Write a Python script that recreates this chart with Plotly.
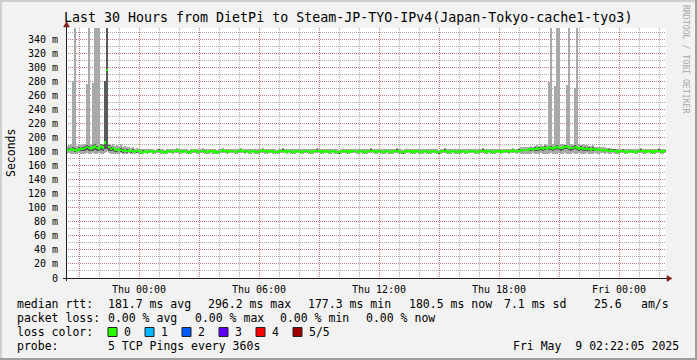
import plotly.graph_objects as go
import pandas as pd

# ---------------- data (ms), one sample every 6 minutes ----------------
median_ms = [
181.5,182.0,182.6,183.2,182.1,181.4,182.8,184.0,183.5,185.2,186.4,184.8,183.9,185.7,186.9,185.1,184.2,187.3,186.0,192.5,
296.2,186.4,183.8,184.9,182.6,181.9,183.1,182.4,180.9,181.6,180.8,181.3,180.5,181.0,179.8,180.4,181.1,178.9,179.6,180.2,
179.4,180.1,180.6,179.8,179.2,180.5,181.0,180.3,179.6,178.8,179.9,180.7,180.2,179.5,180.8,181.2,180.4,179.7,180.0,180.9,
179.3,178.7,179.8,180.6,181.1,180.2,179.6,180.4,181.0,180.1,179.4,179.9,180.8,180.3,179.7,178.9,179.5,180.6,181.2,180.5,
179.8,180.3,181.0,180.4,179.6,180.1,180.9,181.3,180.6,179.9,180.4,179.2,179.8,180.7,180.2,179.5,180.0,180.8,181.1,180.4,
179.7,180.2,180.9,180.3,179.6,179.1,179.9,180.5,181.0,180.2,179.8,180.6,180.1,179.4,180.0,180.7,180.3,179.6,180.2,180.9,
180.4,179.8,179.3,180.1,180.6,181.0,180.4,179.7,180.3,180.8,180.2,179.5,179.9,180.6,180.1,179.4,179.0,179.8,180.5,180.9,
180.3,179.7,180.2,180.8,180.4,179.6,180.1,180.7,180.0,179.3,179.8,180.5,181.0,180.4,179.7,180.2,180.6,179.9,179.4,180.0,
180.6,180.2,179.5,179.9,180.5,181.0,180.3,179.6,179.1,179.8,180.4,180.9,180.3,179.7,180.1,180.6,180.0,179.4,179.9,180.5,
180.2,179.6,180.1,180.7,180.3,179.5,179.0,179.7,180.4,180.8,180.2,179.6,180.0,180.5,180.1,179.4,179.8,180.3,180.7,180.1,
179.6,180.2,180.8,180.4,179.7,179.2,179.9,180.5,180.9,180.3,179.8,180.4,180.0,179.5,180.1,180.6,180.2,179.7,180.3,180.8,
180.4,179.9,180.5,181.1,180.7,180.2,180.8,181.4,181.9,182.4,181.8,182.6,183.3,182.7,183.8,184.4,183.6,184.9,184.2,185.3,
184.6,185.8,185.1,184.5,185.9,186.7,185.4,184.8,185.6,186.2,187.0,185.9,184.7,185.3,186.1,185.5,184.6,185.2,184.3,183.7,
184.1,183.4,182.8,183.5,182.9,182.2,182.7,181.9,181.3,181.8,181.2,180.6,181.1,180.5,180.9,180.2,179.8,180.4,180.8,180.1,
179.6,180.3,180.7,180.2,179.5,180.0,180.6,181.0,180.4,179.9,180.3,180.8,180.2,179.7,180.1,180.6,180.9,180.3,179.8,180.5,
]

min_ms = [
177,178,177,176,177,176,178,177,176,177,178,176,177,178,176,177,178,177,176,178,
180,178,177,176,177,176,177,178,176,177,177,178,177,176,177,178,177,176,177,178,
177,178,178,177,176,178,178,177,177,176,177,178,178,177,178,178,177,177,178,178,
177,176,177,178,178,177,177,178,178,177,177,177,178,177,177,176,177,178,178,178,
177,178,178,178,177,177,178,178,178,177,178,176,177,178,177,177,177,178,178,177,
177,178,178,177,177,176,177,178,178,178,177,178,177,177,177,178,178,177,177,178,
178,177,176,177,178,178,178,177,177,178,178,177,177,178,177,177,176,177,178,178,
177,177,178,178,178,177,177,178,177,176,177,178,178,178,177,177,178,177,177,177,
178,177,177,177,178,178,177,177,176,177,178,178,177,177,177,178,177,177,177,178,
177,177,177,178,178,177,176,177,178,178,177,177,177,178,177,177,177,177,178,177,
177,178,178,178,177,176,177,178,178,177,177,178,177,177,177,178,178,177,178,178,
178,177,178,178,178,177,178,177,177,176,177,176,177,178,177,176,177,178,176,177,
177,176,178,177,176,177,178,176,177,178,177,176,177,178,176,177,178,176,177,177,
178,177,176,177,178,177,177,178,178,177,178,177,177,178,177,177,177,178,178,177,
177,178,178,178,177,177,178,178,177,177,178,178,177,177,177,178,178,177,177,178,
]

max_ms = [
188,189,190,280,400,188,190,189,191,190,276,400,190,278,400,400,400,191,190,280,
400,191,189,190,188,189,188,190,187,188,186,187,185,186,184,185,184,183,184,183,
183,184,184,183,182,184,184,183,183,182,183,184,183,183,184,185,184,183,183,184,
183,182,183,184,184,183,183,184,185,184,183,183,184,184,183,182,183,184,185,184,
183,184,184,184,183,183,184,185,184,183,184,183,183,184,184,183,183,184,185,184,
183,184,184,184,183,182,183,184,185,184,183,184,184,183,183,184,184,183,184,184,
184,183,183,184,184,185,184,183,184,184,184,183,183,184,184,183,182,183,184,184,
184,183,184,184,184,183,183,184,184,183,183,184,185,184,183,184,184,183,183,183,
184,184,183,183,184,185,184,183,182,183,184,184,184,183,184,184,184,183,183,184,
184,183,184,184,184,183,182,183,184,185,184,183,183,184,184,183,183,184,184,184,
183,184,184,184,183,183,183,184,185,184,183,184,184,183,184,184,184,183,184,184,
184,183,184,185,184,184,185,186,186,187,186,187,188,187,188,189,188,189,188,190,
189,279,400,190,273,400,400,191,190,189,275,400,190,189,270,400,190,189,190,189,
189,188,188,189,187,187,187,186,186,186,185,185,185,184,184,184,183,184,184,183,
183,184,184,184,183,183,184,185,184,183,184,184,184,183,183,184,185,184,183,184,
]

ping2_ms = [
179,180,180,180,179,179,180,181,180,181,182,181,180,181,182,181,180,182,181,183,
183,181,180,180,179,179,180,179,178,179,178,179,178,179,178,178,179,177,178,178,
178,178,179,178,178,179,179,178,178,177,178,179,179,178,179,179,179,178,178,179,
178,177,178,179,179,178,178,179,179,178,178,178,179,179,178,177,178,179,179,179,
178,179,179,179,178,178,179,179,179,178,179,178,178,179,179,178,178,179,179,179,
178,179,179,179,178,178,178,179,179,179,178,179,179,178,178,179,179,178,179,179,
179,178,178,178,179,179,179,178,179,179,179,178,178,179,179,178,177,178,179,179,
179,178,179,179,179,178,178,179,178,178,178,179,179,179,178,179,179,178,178,178,
179,179,178,178,179,179,179,178,177,178,179,179,179,178,178,179,178,178,178,179,
179,178,178,179,179,178,177,178,179,179,179,178,178,179,178,178,178,179,179,178,
178,179,179,179,178,178,178,179,179,179,178,179,178,178,178,179,179,178,179,179,
179,178,179,179,179,178,179,179,180,180,180,180,181,180,181,181,181,182,181,182,
182,182,182,181,182,183,182,181,182,183,183,182,181,182,183,182,181,182,181,181,
181,181,180,181,180,180,180,180,179,180,179,179,179,179,179,178,178,179,179,178,
178,179,179,179,178,178,179,179,179,178,179,179,179,178,178,179,179,179,178,179,
]

ping4_ms = [
184,185,185,186,185,184,186,187,186,188,189,188,187,189,190,188,187,190,189,280,
400,189,186,187,185,184,185,185,183,184,183,183,182,183,182,182,183,181,182,182,
181,182,182,181,181,182,183,182,181,180,181,182,182,181,182,183,182,181,181,182,
181,180,181,182,183,182,181,182,182,181,181,181,182,182,181,180,181,182,183,182,
181,182,182,182,181,181,182,183,182,181,182,181,181,182,182,181,181,182,183,182,
181,182,182,182,181,180,181,182,183,182,181,182,182,181,181,182,182,181,182,182,
182,181,181,181,182,183,182,181,182,182,182,181,181,182,182,181,180,181,182,182,
182,181,182,182,182,181,181,182,182,181,181,182,183,182,181,182,182,181,181,181,
182,182,181,181,182,183,182,181,180,181,182,182,182,181,182,182,182,181,181,182,
182,181,182,182,182,181,180,181,182,183,182,181,181,182,182,181,181,182,182,182,
181,182,182,182,181,181,181,182,183,182,181,182,182,181,182,182,182,181,182,182,
182,181,182,183,182,182,183,183,184,184,184,184,185,185,186,186,186,187,186,188,
187,188,188,187,188,189,188,187,188,189,189,188,187,188,189,188,187,188,187,186,
186,186,185,186,185,184,185,184,183,184,183,183,183,183,183,182,182,182,183,182,
181,182,182,182,181,181,182,183,182,181,182,182,182,181,181,182,183,182,181,182,
]

y_tick_vals = list(range(0, 341, 20))
y_tick_text = ["0"] + [f"{v} m" for v in y_tick_vals[1:]]

stats_rtt = ["181.7 ms avg", "296.2 ms max", "177.3 ms min", "180.5 ms now", "7.1 ms sd", "25.6", "am/s"]
stats_loss = ["0.00 % avg", "0.00 % max", "0.00 % min", "0.00 % now"]
loss_labels = ["0", "1", "2", "3", "4", "5/5"]
loss_colors = ["#26ff00", "#00b8ff", "#0059ff", "#5e00ff", "#ff0000", "#a10000"]

# ---------------- geometry ----------------
W, H = 697, 360
PL, PR, PT, PB = 66, 666, 28, 278
t_start = pd.Timestamp("2025-05-07 20:21:00")
t_end = pd.Timestamp("2025-05-09 02:21:00")
times = pd.date_range("2025-05-07 20:24:00", periods=len(median_ms), freq="6min")
step_ms = 6 * 60 * 1000
Y_MAX = 355.7

def px(x):
    return (x - PL) / (PR - PL)

def py(y):
    return (PB - y) / (PB - PT)

MONO = "DejaVu Sans Mono"

fig = go.Figure()

# light smoke (min .. max)
fig.add_trace(go.Bar(
    x=times, y=[h - l for h, l in zip(max_ms, min_ms)], base=min_ms,
    width=step_ms, marker=dict(color="#a9a9a9", line=dict(width=0)),
    hoverinfo="skip", showlegend=False))
# dark smoke (2nd .. 4th ping)
fig.add_trace(go.Bar(
    x=times, y=[h - l for h, l in zip(ping4_ms, ping2_ms)], base=ping2_ms,
    width=step_ms, marker=dict(color="#5a5a5a", line=dict(width=0)),
    hoverinfo="skip", showlegend=False))
# median (loss 0 colour), drawn as a thin band
MED_HALF = 1.8
fig.add_trace(go.Bar(
    x=times, y=[2 * MED_HALF] * len(median_ms), base=[m - MED_HALF for m in median_ms],
    width=step_ms, marker=dict(color=loss_colors[0], line=dict(width=0)),
    hoverinfo="skip", showlegend=False))

x_major = pd.date_range("2025-05-07 21:00", "2025-05-09 00:00", freq="3h")
x_text = [t.strftime("%a %H:%M") if t.hour % 6 == 0 else "" for t in x_major]

GRID = "rgba(143,143,143,0.75)"
MGRID = "rgba(222,79,79,0.55)"
DASH = "1px,1px"

fig.update_layout(
    width=W, height=H,
    margin=dict(l=PL, r=W - PR, t=PT, b=H - PB, pad=0),
    paper_bgcolor="#f2f2f2", plot_bgcolor="#ffffff",
    barmode="overlay", bargap=0, showlegend=False,
    font=dict(family=MONO, color="#000000", size=10),
    xaxis=dict(
        type="date", range=[t_start, t_end],
        tickmode="array", tickvals=list(x_major), ticktext=x_text,
        showgrid=True, gridcolor=MGRID, griddash=DASH, gridwidth=1,
        ticks="outside", ticklen=2, tickcolor="rgba(0,0,0,0)",
        showline=False, zeroline=False,
        tickfont=dict(family=MONO, size=10, color="#000"),
        minor=dict(dtick=3600000, tick0="2025-05-07 00:00", showgrid=True,
                   gridcolor=GRID, griddash=DASH, gridwidth=1, ticks=""),
    ),
    yaxis=dict(
        range=[0, Y_MAX], tickmode="array", tickvals=y_tick_vals, ticktext=y_tick_text,
        showgrid=True, gridcolor=MGRID, griddash=DASH, gridwidth=1,
        ticks="outside", ticklen=5, tickcolor="rgba(0,0,0,0)",
        showline=False, zeroline=False,
        tickfont=dict(family=MONO, size=10, color="#000"),
        minor=dict(dtick=10, showgrid=True, gridcolor=GRID, griddash=DASH, gridwidth=1, ticks=""),
    ),
)

shapes = []
# outer 3D frame
shapes.append(dict(type="rect", xref="paper", yref="paper", x0=px(0), x1=px(W), y0=py(2), y1=py(0),
                   line=dict(width=0), fillcolor="#cfcfcf"))
shapes.append(dict(type="rect", xref="paper", yref="paper", x0=px(0), x1=px(2), y0=py(H), y1=py(0),
                   line=dict(width=0), fillcolor="#cfcfcf"))
shapes.append(dict(type="rect", xref="paper", yref="paper", x0=px(0), x1=px(W), y0=py(H), y1=py(H - 2),
                   line=dict(width=0), fillcolor="#9e9e9e"))
shapes.append(dict(type="rect", xref="paper", yref="paper", x0=px(W - 2), x1=px(W), y0=py(H), y1=py(0),
                   line=dict(width=0), fillcolor="#9e9e9e"))
# axes
shapes.append(dict(type="line", xref="paper", yref="paper", x0=px(63), x1=px(668), y0=py(278.5), y1=py(278.5),
                   line=dict(color="#1f1f1f", width=1)))
shapes.append(dict(type="line", xref="paper", yref="paper", x0=px(66.5), x1=px(66.5), y0=py(281), y1=py(25),
                   line=dict(color="#1f1f1f", width=1)))
# arrows
shapes.append(dict(type="path", xref="paper", yref="paper",
                   path=f"M {px(667)} {py(275.5)} L {px(672)} {py(278.5)} L {px(667)} {py(281.5)} Z",
                   fillcolor="#7f1f1f", line=dict(color="#7f1f1f", width=0.5)))
shapes.append(dict(type="path", xref="paper", yref="paper",
                   path=f"M {px(63.5)} {py(27)} L {px(66.5)} {py(21.5)} L {px(69.5)} {py(27)} Z",
                   fillcolor="#7f1f1f", line=dict(color="#7f1f1f", width=0.5)))
# loss colour boxes
box_x = [108, 145, 182, 219, 256, 293]
for bx, col in zip(box_x, loss_colors):
    shapes.append(dict(type="rect", xref="paper", yref="paper", x0=px(bx), x1=px(bx + 9),
                       y0=py(336.5), y1=py(327.5), fillcolor=col, line=dict(color="#222222", width=1)))
fig.update_layout(shapes=shapes)

ann = []
def text(x, y, s, size=11.5, anchor="left", color="#000", angle=0):
    ann.append(dict(xref="paper", yref="paper", x=px(x), y=py(y), text=s, showarrow=False,
                    xanchor=anchor, yanchor="middle", textangle=angle, borderpad=0,
                    font=dict(family=MONO, size=size, color=color)))

text(348, 18, "Last 30 Hours from DietPi to Steam-JP-TYO-IPv4(Japan-Tokyo-cache1-tyo3)", size=13.3, anchor="center")
text(11, 153, "Seconds", size=11.5, anchor="center", angle=-90)
text(686, 59, "RRDTOOL / TOBI OETIKER", size=8.2, anchor="center", color="#a8a8a8", angle=90)

row1_x = [107, 207, 307, 408, 503, 593, 640]
text(16, 304, "median rtt:")
for xx, s in zip(row1_x, stats_rtt):
    text(xx, 304, s)
row2_x = [107, 194, 279, 365]
text(16, 318, "packet loss:")
for xx, s in zip(row2_x, stats_loss):
    text(xx, 318, s)
text(16, 332, "loss color:")
for bx, s in zip(box_x, loss_labels):
    text(bx + 15, 332, s)
text(16, 346, "probe:")
text(107, 346, "5 TCP Pings every 360s")
text(680, 346, "Fri May\u00a0\u00a09 02:22:05 2025", anchor="right")

fig.update_layout(annotations=ann)
fig.write_html("out.html")
